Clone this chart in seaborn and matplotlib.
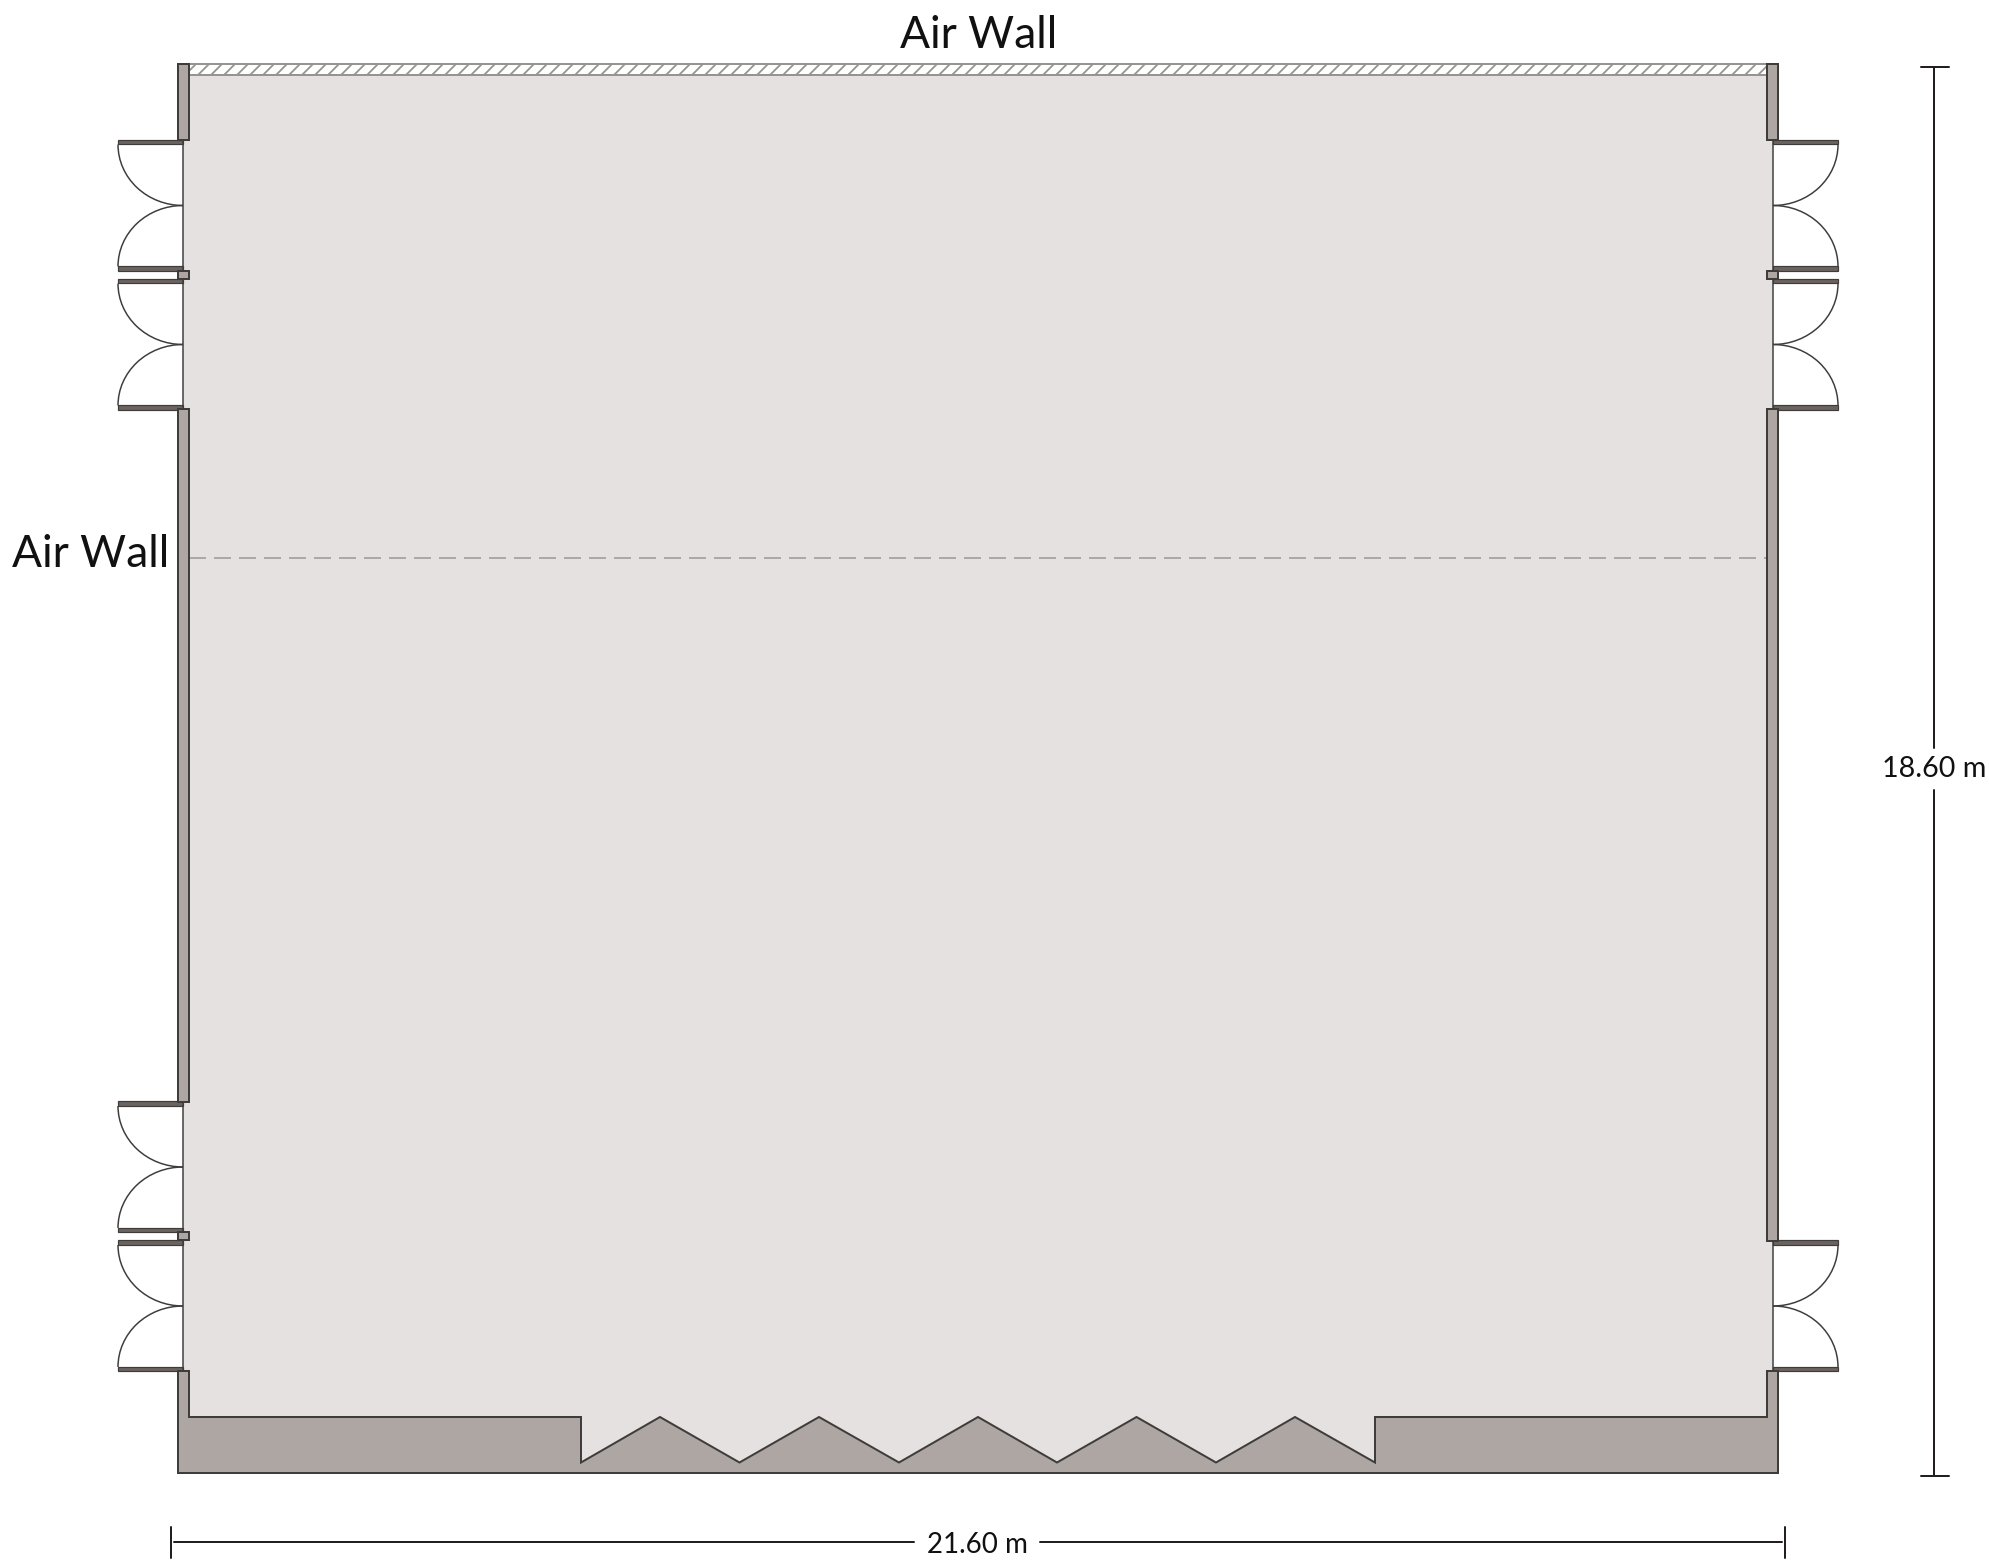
import matplotlib
matplotlib.use("Agg")
import matplotlib.pyplot as plt
from matplotlib.patches import Arc, Polygon, Rectangle
import seaborn as sns

OUTPUT_IMAGE = "out.png"
DPI = 156
PX = 72 / DPI  # one image pixel in points

ROOM_X = [183, 1773]
ROOM_Y = [75, 1465]
WALL_LEFT = [178, 189]
WALL_RIGHT = [1767, 1778]
JAMB_LEFT = 183
JAMB_RIGHT = 1773

WALLS_LEFT_Y = [(64, 140), (271, 279), (409, 1102), (1232, 1240)]
WALLS_RIGHT_Y = [(64, 140), (271, 279), (409, 1241)]
DOORS_LEFT_Y = [140, 279, 1101.5, 1240.5]
DOORS_RIGHT_Y = [140, 279, 1240.5]
DOOR_HEIGHT = 131
DOOR_WIDTH = 65
LEAF_THICK = 4.5

BACK_WALL_X = [178, 178, 1778, 1778, 1767, 1767, 1375, 1375, 1295, 1216, 1136.5, 1057, 978, 899, 819, 739.5, 660, 581, 581, 189, 189]
BACK_WALL_Y = [1371, 1473, 1473, 1371, 1371, 1417, 1417, 1462.5, 1417, 1462.5, 1417, 1462.5, 1417, 1462.5, 1417, 1462.5, 1417, 1462.5, 1417, 1417, 1371]

AIR_WALL_TOP_X = [189, 1767]
AIR_WALL_TOP_Y = [64, 75]
AIR_WALL_DASH_X = [189, 1767]
AIR_WALL_DASH_Y = [558.5, 558.5]

DIM_V_X = 1934
DIM_V_SEGMENTS = [(67, 748), (790, 1476)]
DIM_V_TICK_X = [1921, 1949]
DIM_V_TICK_Y = [67, 1476]
DIM_H_Y = 1542.5
DIM_H_SEGMENTS = [(174, 914), (1040, 1782)]
DIM_H_TICK_X = [171, 1785]
DIM_H_TICK_Y = [1527, 1558]

ROOM_COLOR = "#e4e1e0"
WALL_COLOR = "#aea6a2"
LINE_COLOR = "#3f3d3c"
LEAF_COLOR = "#6b6360"
HATCH_COLOR = "#969492"
DIM_COLOR = "#231f20"


def draw_line(ax, xs, ys, color=DIM_COLOR, width=2.0, **kw):
    sns.lineplot(x=xs, y=ys, sort=False, estimator=None, errorbar=None, legend=False,
                 color=color, linewidth=width * PX, ax=ax, **kw)


def draw_door(ax, jamb, top, side):
    # side = -1 opens to the left of the jamb, +1 to the right
    bottom = top + DOOR_HEIGHT
    x0 = jamb if side > 0 else jamb - DOOR_WIDTH
    for y in (top, bottom - LEAF_THICK):
        ax.add_patch(Rectangle((x0, y), DOOR_WIDTH, LEAF_THICK, facecolor=LEAF_COLOR,
                               edgecolor=LINE_COLOR, linewidth=1.2 * PX, zorder=4))
    ax.add_patch(Rectangle((x0, top), DOOR_WIDTH, DOOR_HEIGHT, facecolor="white", edgecolor="none", zorder=2))
    draw_line(ax, [jamb, jamb], [top, bottom], color=LINE_COLOR, width=1.5, zorder=4)
    radius = (DOOR_HEIGHT - 2 * LEAF_THICK) / 2
    # two quarter arcs meeting at the jamb
    if side < 0:
        a1, a2 = (90, 180), (180, 270)
    else:
        a1, a2 = (0, 90), (270, 360)
    for cy, (t1, t2) in ((top + LEAF_THICK, a1), (bottom - LEAF_THICK, a2)):
        ax.add_patch(Arc((jamb, cy), 2 * DOOR_WIDTH, 2 * radius, theta1=t1, theta2=t2,
                         edgecolor=LINE_COLOR, linewidth=1.5 * PX, zorder=4))


def main():
    sns.set_theme(style="white")
    plt.rcParams["font.family"] = ["Lato", "DejaVu Sans"]
    plt.rcParams["lines.scale_dashes"] = False
    plt.rcParams["hatch.linewidth"] = 1.8 * PX

    fig = plt.figure(figsize=(1989 / DPI, 1563 / DPI), dpi=DPI)
    ax = fig.add_axes([0, 0, 1, 1])

    # floor
    ax.add_patch(Rectangle((ROOM_X[0], ROOM_Y[0]), ROOM_X[1] - ROOM_X[0], ROOM_Y[1] - ROOM_Y[0],
                           facecolor=ROOM_COLOR, edgecolor="none", zorder=1))

    # doors
    for top in DOORS_LEFT_Y:
        draw_door(ax, JAMB_LEFT, top, -1)
    for top in DOORS_RIGHT_Y:
        draw_door(ax, JAMB_RIGHT, top, 1)

    # side walls and piers
    for xs, segments in ((WALL_LEFT, WALLS_LEFT_Y), (WALL_RIGHT, WALLS_RIGHT_Y)):
        for y0, y1 in segments:
            ax.add_patch(Rectangle((xs[0], y0), xs[1] - xs[0], y1 - y0, facecolor=WALL_COLOR,
                                   edgecolor=LINE_COLOR, linewidth=2.0 * PX, zorder=5))

    # back wall with the zigzag
    ax.add_patch(Polygon(list(zip(BACK_WALL_X, BACK_WALL_Y)), closed=True, facecolor=WALL_COLOR,
                         edgecolor=LINE_COLOR, linewidth=2.0 * PX, zorder=5))

    # air walls
    ax.add_patch(Rectangle((AIR_WALL_TOP_X[0], AIR_WALL_TOP_Y[0]), AIR_WALL_TOP_X[1] - AIR_WALL_TOP_X[0],
                           AIR_WALL_TOP_Y[1] - AIR_WALL_TOP_Y[0], facecolor="white", edgecolor=HATCH_COLOR,
                           hatch="////", linewidth=2.0 * PX, zorder=3))
    draw_line(ax, AIR_WALL_DASH_X, AIR_WALL_DASH_Y, color="#a2a09f", width=1.7,
              linestyle=(0, (17 * PX, 8 * PX)), zorder=3)

    # dimensions
    for y0, y1 in DIM_V_SEGMENTS:
        draw_line(ax, [DIM_V_X, DIM_V_X], [y0, y1])
    for y in DIM_V_TICK_Y:
        draw_line(ax, DIM_V_TICK_X, [y, y])
    for x0, x1 in DIM_H_SEGMENTS:
        draw_line(ax, [x0, x1], [DIM_H_Y, DIM_H_Y])
    for x in DIM_H_TICK_X:
        draw_line(ax, [x, x], DIM_H_TICK_Y)

    # labels
    ax.text(979, 48, "Air Wall", fontsize=20.5, color="#111111", ha="center", va="baseline")
    ax.text(91, 567, "Air Wall", fontsize=20.5, color="#111111", ha="center", va="baseline")
    ax.text(1934, 777, "18.60 m", fontsize=13.3, color="#111111", ha="center", va="baseline")
    ax.text(977.5, 1553, "21.60 m", fontsize=12.8, color="#111111", ha="center", va="baseline")

    ax.set_xlim(0, 1989)
    ax.set_ylim(1563, 0)
    ax.axis("off")

    fig.savefig(OUTPUT_IMAGE, dpi=DPI)


if __name__ == "__main__":
    main()
